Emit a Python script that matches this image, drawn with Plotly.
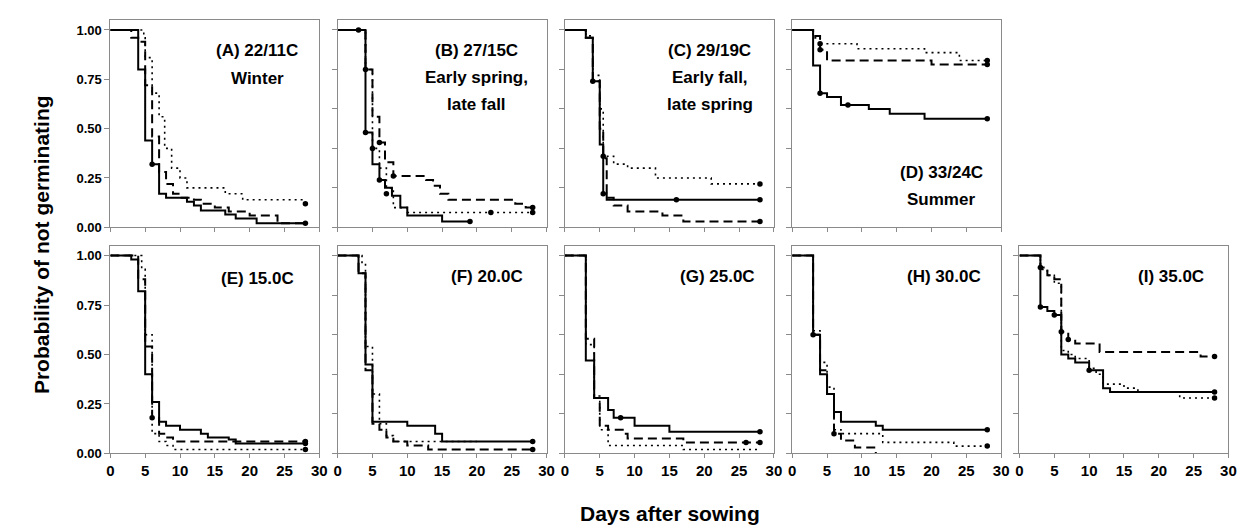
import plotly.graph_objects as go

FONT = "Liberation Sans, Arial, sans-serif"
W, H = 1245, 527

# ---------------- data: Kaplan-Meier style step curves ----------------
# (A) 22/11C Winter
A_solid_t = [0, 4, 5, 6, 7, 8, 11, 12, 13, 16.5, 18, 21, 28]
A_solid_s = [1.0, 0.80, 0.44, 0.32, 0.17, 0.15, 0.13, 0.11, 0.085, 0.065, 0.045, 0.02, 0.02]
A_dash_t = [0, 3, 4, 5, 6, 7, 8, 9, 10, 12, 13, 15, 17, 20, 24, 28]
A_dash_s = [1.0, 0.96, 0.94, 0.72, 0.46, 0.28, 0.22, 0.17, 0.15, 0.14, 0.12, 0.10, 0.08, 0.06, 0.02, 0.02]
A_dot_t = [0, 4.8, 5, 6, 7, 7.8, 8.8, 10, 11, 16.5, 19, 27.8, 28]
A_dot_s = [1.0, 0.96, 0.86, 0.68, 0.56, 0.40, 0.30, 0.25, 0.20, 0.17, 0.14, 0.12, 0.12]
A_cens_x = [6, 28, 28]
A_cens_y = [0.32, 0.02, 0.12]

# (B) 27/15C Early spring, late fall
B_solid_t = [0, 4, 5, 6, 6.8, 7.8, 9, 10, 15, 19]
B_solid_s = [1.0, 0.48, 0.32, 0.24, 0.20, 0.16, 0.10, 0.06, 0.03, 0.03]
B_dash_t = [0, 4, 5, 6, 6.8, 8, 12.7, 13.7, 14.7, 15.9, 25.5, 27, 28]
B_dash_s = [1.0, 0.80, 0.56, 0.43, 0.33, 0.26, 0.24, 0.21, 0.17, 0.14, 0.12, 0.10, 0.10]
B_dot_t = [0, 4, 5, 6, 7, 8, 10, 28]
B_dot_s = [1.0, 0.80, 0.40, 0.30, 0.20, 0.10, 0.075, 0.075]
B_cens_x = [3, 4, 4, 5, 6, 6, 7, 8, 19, 22, 28, 28]
B_cens_y = [1.0, 0.80, 0.48, 0.40, 0.43, 0.24, 0.17, 0.26, 0.03, 0.075, 0.10, 0.075]

# (C) 29/19C Early fall, late spring
C_solid_t = [0, 3, 4, 5, 5.5, 6, 28]
C_solid_s = [1.0, 0.96, 0.74, 0.42, 0.17, 0.14, 0.14]
C_dash_t = [0, 3, 4, 5, 5.5, 6, 7, 9, 14, 17, 28]
C_dash_s = [1.0, 0.96, 0.74, 0.50, 0.35, 0.15, 0.11, 0.08, 0.06, 0.03, 0.03]
C_dot_t = [0, 3, 4, 5, 5.5, 7, 9, 13, 21, 28]
C_dot_s = [1.0, 0.97, 0.77, 0.60, 0.36, 0.32, 0.30, 0.25, 0.22, 0.22]
C_cens_x = [4, 5.5, 5.5, 16, 28, 28, 28]
C_cens_y = [0.74, 0.36, 0.17, 0.14, 0.22, 0.14, 0.03]

# (D) 33/24C Summer
D_solid_t = [0, 3, 4, 5, 7, 11, 14, 19, 28]
D_solid_s = [1.0, 0.82, 0.68, 0.66, 0.62, 0.60, 0.575, 0.55, 0.55]
D_dash_t = [0, 3, 4, 5, 20, 28]
D_dash_s = [1.0, 0.97, 0.90, 0.845, 0.825, 0.825]
D_dot_t = [0, 3, 4, 9.3, 19, 24, 28]
D_dot_s = [1.0, 0.96, 0.93, 0.905, 0.885, 0.845, 0.845]
D_cens_x = [4, 8, 28, 4, 28, 4, 28]
D_cens_y = [0.68, 0.62, 0.55, 0.90, 0.825, 0.93, 0.845]

# (E) 15.0C
E_solid_t = [0, 3, 4, 5, 6, 7, 8, 10, 13, 14, 17, 18, 28]
E_solid_s = [1.0, 0.98, 0.82, 0.40, 0.26, 0.16, 0.14, 0.12, 0.10, 0.08, 0.07, 0.05, 0.05]
E_dash_t = [0, 4, 5, 6, 7, 8, 9, 28]
E_dash_s = [1.0, 0.88, 0.54, 0.18, 0.10, 0.08, 0.06, 0.06]
E_dot_t = [0, 4.5, 5, 6, 7, 8, 9, 28]
E_dot_s = [1.0, 0.93, 0.60, 0.10, 0.06, 0.04, 0.02, 0.02]
E_cens_x = [6, 28, 28, 28]
E_cens_y = [0.18, 0.05, 0.06, 0.02]

# (F) 20.0C
F_solid_t = [0, 3, 4, 5, 10, 14, 15, 28]
F_solid_s = [1.0, 0.91, 0.45, 0.16, 0.14, 0.10, 0.06, 0.06]
F_dash_t = [0, 3, 4, 5, 6, 7, 8, 10, 13, 28]
F_dash_s = [1.0, 0.91, 0.42, 0.15, 0.12, 0.08, 0.06, 0.04, 0.02, 0.02]
F_dot_t = [0, 3.5, 4, 5, 6, 7, 8, 20]
F_dot_s = [1.0, 0.96, 0.54, 0.30, 0.15, 0.09, 0.06, 0.06]
F_cens_x = [28, 28]
F_cens_y = [0.06, 0.02]

# (G) 25.0C
G_solid_t = [0, 3, 4.2, 6.2, 7, 10, 15, 28]
G_solid_s = [1.0, 0.47, 0.28, 0.22, 0.18, 0.14, 0.11, 0.11]
G_dash_t = [0, 3, 4.2, 5, 6.2, 8.3, 9, 17, 28]
G_dash_s = [1.0, 0.58, 0.28, 0.14, 0.12, 0.10, 0.075, 0.055, 0.055]
G_dot_t = [0, 3, 4.2, 5, 6.2, 17, 28]
G_dot_s = [1.0, 0.55, 0.29, 0.12, 0.04, 0.02, 0.02]
G_cens_x = [8, 28, 26, 28]
G_cens_y = [0.18, 0.11, 0.055, 0.055]

# (H) 30.0C
H_solid_t = [0, 3, 4, 5, 6, 7, 12, 13, 28]
H_solid_s = [1.0, 0.60, 0.40, 0.30, 0.21, 0.16, 0.14, 0.12, 0.12]
H_dash_t = [0, 3, 4, 5, 6, 7, 9, 12]
H_dash_s = [1.0, 0.60, 0.42, 0.30, 0.10, 0.065, 0.03, 0.0]
H_dot_t = [0, 3, 4, 5, 6, 7, 13, 23.2, 28]
H_dot_s = [1.0, 0.62, 0.46, 0.335, 0.12, 0.10, 0.056, 0.037, 0.037]
H_cens_x = [3, 6, 28, 28]
H_cens_y = [0.60, 0.10, 0.12, 0.037]

# (I) 35.0C
I_solid_t = [0, 3, 4, 5, 6, 7, 8, 10, 12, 13, 28]
I_solid_s = [1.0, 0.74, 0.72, 0.70, 0.50, 0.48, 0.46, 0.42, 0.33, 0.31, 0.31]
I_dash_t = [0, 3, 4, 5, 6, 7, 8, 11.5, 26, 28]
I_dash_s = [1.0, 0.94, 0.90, 0.88, 0.615, 0.576, 0.556, 0.513, 0.49, 0.49]
I_dot_t = [0, 3, 4, 5, 6, 7, 8, 10, 11, 12, 15, 17, 23, 28]
I_dot_s = [1.0, 0.93, 0.90, 0.86, 0.52, 0.50, 0.48, 0.43, 0.40, 0.35, 0.33, 0.31, 0.28, 0.28]
I_cens_x = [3, 5, 10, 28, 3, 6, 7, 28, 28]
I_cens_y = [0.74, 0.70, 0.42, 0.31, 0.94, 0.615, 0.576, 0.49, 0.28]

# panel label texts
A_label = ["(A) 22/11C", "Winter"]
B_label = ["(B) 27/15C", "Early spring,", "late fall"]
C_label = ["(C) 29/19C", "Early fall,", "late spring"]
D_label = ["(D) 33/24C", "Summer"]
E_label = ["(E) 15.0C"]
F_label = ["(F) 20.0C"]
G_label = ["(G) 25.0C"]
H_label = ["(H) 30.0C"]
I_label = ["(I) 35.0C"]

x_tick_vals = [0, 5, 10, 15, 20, 25, 30]
y_tick_vals_first = [0, 0.25, 0.5, 0.75, 1.0]
y_tick_vals_other = [0, 0.2, 0.4, 0.6, 0.8, 1.0]

# ---------------- layout geometry ----------------
col_left = [99.3, 328.8, 558.3, 787.8, 1017.3]
pw = 211.0
top_row = (12.3, 222.7)     # px top/bottom of plot area
bot_row = (241.3, 452.3)

panels = [
    ("A", 0, 0, A_solid_t, A_solid_s, A_dash_t, A_dash_s, A_dot_t, A_dot_s, A_cens_x, A_cens_y, A_label, 21.1, [0.895, 0.752]),
    ("B", 1, 0, B_solid_t, B_solid_s, B_dash_t, B_dash_s, B_dot_t, B_dot_s, B_cens_x, B_cens_y, B_label, 19.9, [0.895, 0.76, 0.622]),
    ("C", 2, 0, C_solid_t, C_solid_s, C_dash_t, C_dash_s, C_dot_t, C_dot_s, C_cens_x, C_cens_y, C_label, 20.8, [0.895, 0.76, 0.622]),
    ("D", 3, 0, D_solid_t, D_solid_s, D_dash_t, D_dash_s, D_dot_t, D_dot_s, D_cens_x, D_cens_y, D_label, 21.4, [0.279, 0.143]),
    ("E", 0, 1, E_solid_t, E_solid_s, E_dash_t, E_dash_s, E_dot_t, E_dot_s, E_cens_x, E_cens_y, E_label, 21.1, [0.884]),
    ("F", 1, 1, F_solid_t, F_solid_s, F_dash_t, F_dash_s, F_dot_t, F_dot_s, F_cens_x, F_cens_y, F_label, 21.4, [0.894]),
    ("G", 2, 1, G_solid_t, G_solid_s, G_dash_t, G_dash_s, G_dot_t, G_dot_s, G_cens_x, G_cens_y, G_label, 21.9, [0.894]),
    ("H", 3, 1, H_solid_t, H_solid_s, H_dash_t, H_dash_s, H_dot_t, H_dot_s, H_cens_x, H_cens_y, H_label, 21.85, [0.894]),
    ("I", 4, 1, I_solid_t, I_solid_s, I_dash_t, I_dash_s, I_dot_t, I_dot_s, I_cens_x, I_cens_y, I_label, 21.7, [0.894]),
]

fig = go.Figure()
layout = dict(
    width=W, height=H, margin=dict(l=0, r=0, t=0, b=0),
    paper_bgcolor="white", plot_bgcolor="white", showlegend=False,
    font=dict(family=FONT, color="black"),
)
annotations = []
AX = "#8a8a8a"

for i, (key, col, row, st, ss, dt, ds, ot, os_, cx, cy, lab, lx, ly) in enumerate(panels):
    n = i + 1
    xa = "x" if n == 1 else f"x{n}"
    ya = "y" if n == 1 else f"y{n}"
    left = col_left[col]
    top, bottom = top_row if row == 0 else bot_row
    xdom = [left / W, (left + pw) / W]
    ydom = [1 - bottom / H, 1 - top / H]

    fig.add_trace(go.Scatter(x=ot, y=os_, mode="lines", line=dict(color="black", width=1.6, dash="2px,4px", shape="hv"), xaxis=xa, yaxis=ya))
    fig.add_trace(go.Scatter(x=dt, y=ds, mode="lines", line=dict(color="black", width=2, dash="9px,5px", shape="hv"), xaxis=xa, yaxis=ya))
    fig.add_trace(go.Scatter(x=st, y=ss, mode="lines", line=dict(color="black", width=2, shape="hv"), xaxis=xa, yaxis=ya))
    fig.add_trace(go.Scatter(x=cx, y=cy, mode="markers", marker=dict(color="black", size=5.5), xaxis=xa, yaxis=ya))

    xkey = "xaxis" if n == 1 else f"xaxis{n}"
    ykey = "yaxis" if n == 1 else f"yaxis{n}"
    layout[xkey] = dict(
        domain=xdom, anchor=ya, range=[0, 30], tickvals=x_tick_vals,
        showticklabels=(row == 1), ticks="outside", ticklen=4, tickcolor=AX,
        showline=True, mirror=True, linecolor=AX, linewidth=1, showgrid=False, zeroline=False,
        tickfont=dict(family=FONT, size=15, color="black", weight="bold"),
    )
    first = col == 0
    layout[ykey] = dict(
        domain=ydom, anchor=xa, range=[0, 1.05],
        tickvals=y_tick_vals_first if first else y_tick_vals_other,
        tickformat=".2f", showticklabels=first, ticks="outside", ticklen=5, tickcolor=AX,
        showline=True, mirror=True, linecolor=AX, linewidth=1, showgrid=False, zeroline=False,
        tickfont=dict(family=FONT, size=13, color="black", weight="bold"),
    )
    for text, yy in zip(lab, ly):
        annotations.append(dict(
            x=lx, y=yy, xref=xa, yref=ya, text=text, showarrow=False,
            xanchor="center", yanchor="middle",
            font=dict(family=FONT, size=17, color="black", weight="bold"),
        ))

annotations.append(dict(
    x=664 / W, y=1 - 513 / H, xref="paper", yref="paper", text="Days after sowing",
    showarrow=False, xanchor="center", yanchor="middle",
    font=dict(family=FONT, size=21, color="black", weight="bold"),
))
annotations.append(dict(
    x=30 / W, y=1 - 240 / H, xref="paper", yref="paper", text="Probability of not germinating",
    showarrow=False, xanchor="center", yanchor="middle", textangle=-90,
    font=dict(family=FONT, size=21, color="black", weight="bold"),
))
layout["annotations"] = annotations
fig.update_layout(**layout)
fig.write_html("out.html")
